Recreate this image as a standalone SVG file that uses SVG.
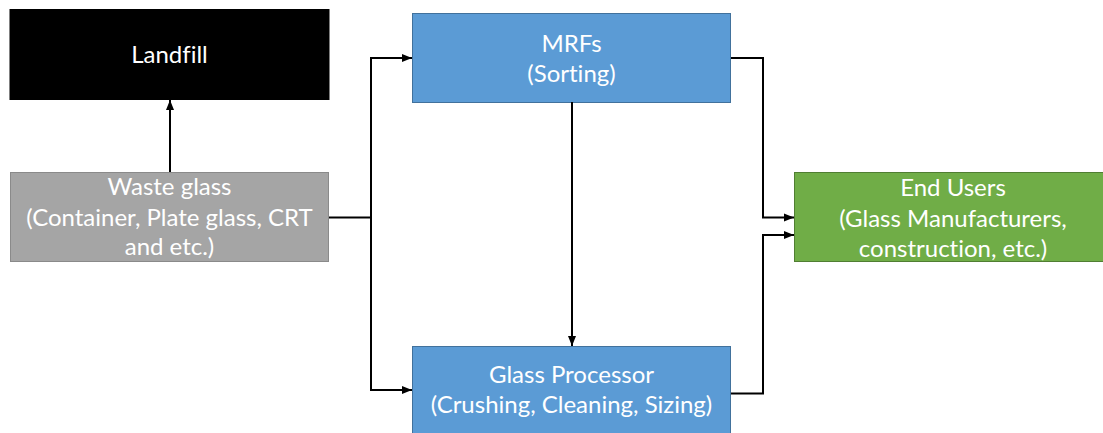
<svg xmlns="http://www.w3.org/2000/svg" width="1103" height="433" viewBox="0 0 1103 433">
  <style>
    .box { stroke-width: 1; }
    .label { font-family: Lato, "Open Sans", "Liberation Sans", sans-serif; font-size: 24px; fill: #ffffff; text-anchor: middle; font-variant-ligatures: none; font-feature-settings: "liga" 0, "dlig" 0; }
    .wire { fill: none; stroke: #000000; stroke-width: 2; }
  </style>
  <defs>
    <marker id="arrow" markerUnits="userSpaceOnUse" markerWidth="10" markerHeight="10" viewBox="0 0 10 10" refX="10" refY="5" orient="auto">
      <path d="M0,1 L10,5 L0,9 Z" fill="#000000"/>
    </marker>
  </defs>

  <rect width="1103" height="433" fill="#ffffff"/>

  <g id="landfill">
    <rect class="box" x="10" y="9.5" width="319" height="90" fill="#000000" stroke="#000000"/>
    <text class="label" x="169.5" y="63">Landfill</text>
  </g>

  <g id="waste-glass">
    <rect class="box" x="10.5" y="172.5" width="318" height="89" fill="#a5a5a5" stroke="#8a8a8a"/>
    <text class="label" x="169.5" y="195">Waste glass</text>
    <text class="label" x="169.5" y="226">(Container, Plate glass, CRT</text>
    <text class="label" x="169.5" y="255">and etc.)</text>
  </g>

  <g id="mrfs">
    <rect class="box" x="412.5" y="13.5" width="318" height="89" fill="#5b9bd5" stroke="#41719c"/>
    <text class="label" x="571.5" y="52">MRFs</text>
    <text class="label" x="571.5" y="82">(Sorting)</text>
  </g>

  <g id="glass-processor">
    <rect class="box" x="412.5" y="346.5" width="318" height="89" fill="#5b9bd5" stroke="#41719c"/>
    <text class="label" x="571.5" y="383">Glass Processor</text>
    <text class="label" x="571.5" y="413">(Crushing, Cleaning, Sizing)</text>
  </g>

  <g id="end-users">
    <rect class="box" x="794.5" y="172.5" width="318" height="89" fill="#70ad47" stroke="#507e32"/>
    <text class="label" x="953" y="196">End Users</text>
    <text class="label" x="953" y="227">(Glass Manufacturers,</text>
    <text class="label" x="953" y="257">construction, etc.)</text>
  </g>

  <g id="connectors">
    <path class="wire" d="M170,172 L170,100" marker-end="url(#arrow)"/>
    <path class="wire" d="M329,217.5 L371,217.5 L371,58 L412,58" marker-end="url(#arrow)"/>
    <path class="wire" d="M371,217.5 L371,390 L412,390" marker-end="url(#arrow)"/>
    <path class="wire" d="M572,102 L572,346" marker-end="url(#arrow)"/>
    <path class="wire" d="M731,58 L763,58 L763,217.5 L794,217.5" marker-end="url(#arrow)"/>
    <path class="wire" d="M731,393.5 L763,393.5 L763,235 L794,235" marker-end="url(#arrow)"/>
  </g>
</svg>
